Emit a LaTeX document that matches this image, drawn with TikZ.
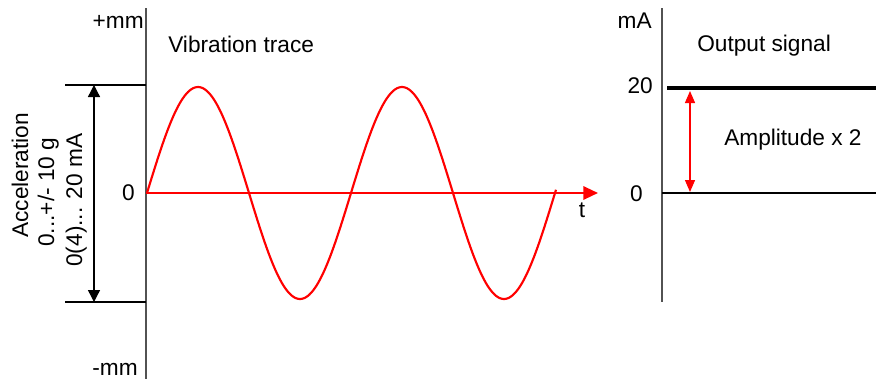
\documentclass[tikz,border=0pt]{standalone}
\usepackage{fontspec}
\setmainfont{Liberation Sans}
\usetikzlibrary{arrows.meta}
\colorlet{axisgray}{black!68}
\colorlet{tracered}{red}
\tikzset{
  vib/axis/.style={axisgray, line width=1.5pt},
  vib/thin/.style={black, line width=1pt},
  vib/label/.style={font=\fontsize{17}{20}\selectfont, inner sep=0pt},
  vib/dim/.style={black, line width=1pt, {Triangle[length=9pt,width=9pt]}-{Triangle[length=9pt,width=9pt]}},
  vib/reddim/.style={tracered, line width=1pt, {Triangle[length=9pt,width=7.5pt]}-{Triangle[length=9pt,width=7.5pt]}},
}

\begin{document}
\begin{tikzpicture}[x=0.75pt, y=-0.75pt]
  \useasboundingbox (0,0) rectangle (876,379);
  % left: vibration trace
  \coordinate (ltop) at (146,8);
  \coordinate (lbot) at (146,379);
  \coordinate (hiA) at (65,85);
  \coordinate (hiB) at (146,85);
  \coordinate (loA) at (65,302);
  \coordinate (loB) at (146,302);
  \coordinate (dimtop) at (94,85);
  \coordinate (dimbot) at (94,302);
  \coordinate (torig) at (146,193);
  \coordinate (tend) at (598,193);
  \draw[vib/axis] (ltop) -- (lbot);
  \draw[vib/thin] (hiA) -- (hiB);
  \draw[vib/thin] (loA) -- (loB);
  \draw[vib/dim] (dimtop) -- (dimbot);
  \draw[tracered, line width=1.6pt, -{Triangle[length=11pt,width=10pt]}] (torig) -- (tend);
  \draw[tracered, line width=1.6pt, line join=round]
    plot[domain=147:556, samples=240] (\x, {193-106*sin((\x-147)/204*360)});
  \node[vib/label, anchor=base east] (plusmm) at (144,28) {+mm};
  \node[vib/label, anchor=base east] (minusmm) at (138,375) {-mm};
  \node[vib/label, anchor=base east] (lzero) at (135,200) {0};
  \node[vib/label, anchor=base west] (vibtitle) at (168,52) {Vibration trace};
  \node[vib/label, anchor=base] (tlabel) at (582,217) {t};
  \node[vib/label, anchor=base west, rotate=90] (accel) at (28,238) {Acceleration};
  \node[vib/label, anchor=base west, rotate=90] (grange) at (54,247) {0...+/- 10 g};
  \node[vib/label, anchor=base west, rotate=90] (marange) at (82,267) {0(4)... 20 mA};
  % right: output signal
  \coordinate (rtop) at (662,8);
  \coordinate (rbot) at (662,302);
  \coordinate (outA) at (667,88);
  \coordinate (outB) at (876,88);
  \coordinate (zeroA) at (662,193);
  \coordinate (zeroB) at (876,193);
  \coordinate (amptop) at (690,91);
  \coordinate (ampbot) at (690,192);
  \draw[vib/axis] (rtop) -- (rbot);
  \draw[black, line width=2.6pt] (outA) -- (outB);
  \draw[vib/thin] (zeroA) -- (zeroB);
  \draw[vib/reddim] (amptop) -- (ampbot);
  \node[vib/label, anchor=base east] (malabel) at (652,28) {mA};
  \node[vib/label, anchor=base west] (outtitle) at (697,51) {Output signal};
  \node[vib/label, anchor=base east] (twenty) at (653,93) {20};
  \node[vib/label, anchor=base east] (rzero) at (643,201) {0};
  \node[vib/label, anchor=base west] (amplabel) at (724,145) {Amplitude x 2};
\end{tikzpicture}
\end{document}
